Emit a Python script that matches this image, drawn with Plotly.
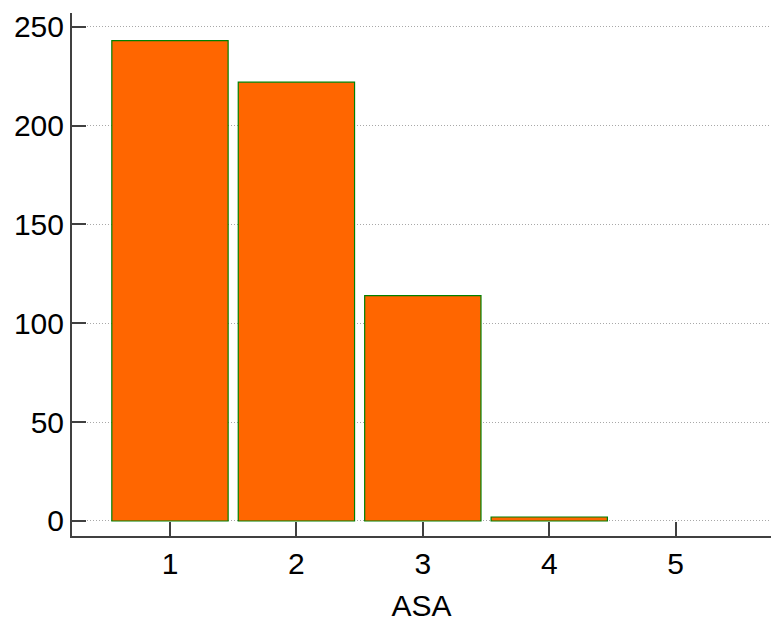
import plotly.graph_objects as go

# ASA class counts
asa_classes = [1, 2, 3, 4, 5]
counts = [243, 222, 114, 2, 0]
y_ticks = [0, 50, 100, 150, 200, 250]

axis_color = "#404040"
font_family = "Liberation Sans, Arial, sans-serif"

# no outline on empty bars
outline_widths = [1.2 if c > 0 else 0 for c in counts]

fig = go.Figure(
    go.Bar(
        x=asa_classes,
        y=counts,
        width=0.92,
        marker=dict(color="#FF6600", line=dict(color="#008000", width=outline_widths)),
    )
)

fig.update_layout(
    width=771,
    height=622,
    margin=dict(l=72, r=0, t=13, b=86),
    paper_bgcolor="white",
    plot_bgcolor="white",
    showlegend=False,
    font=dict(family=font_family, size=30, color="black"),
)

fig.update_xaxes(
    range=[0.225, 5.754],
    tickvals=asa_classes,
    ticks="inside",
    ticklen=14,
    tickwidth=2,
    tickcolor=axis_color,
    showline=True,
    linecolor=axis_color,
    linewidth=2,
    showgrid=False,
    zeroline=False,
    title=dict(text="ASA", standoff=18, font=dict(size=30)),
    tickfont=dict(size=30),
)

fig.update_yaxes(
    range=[-7.6, 257],
    tickvals=y_ticks,
    ticks="inside",
    ticklen=14,
    tickwidth=2,
    tickcolor=axis_color,
    showline=True,
    linecolor=axis_color,
    linewidth=2,
    showgrid=True,
    gridcolor="#a8a8a8",
    gridwidth=1,
    griddash="1px,2px",
    zeroline=False,
    tickfont=dict(size=30),
)

fig.write_html("out.html")
